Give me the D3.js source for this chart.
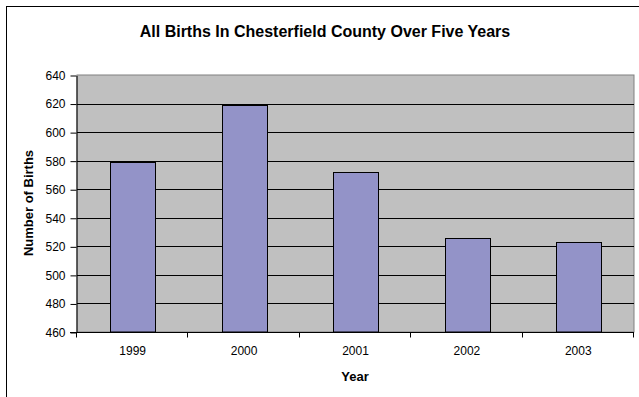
<!DOCTYPE html>
<html>
<head>
<meta charset="utf-8">
<script src="https://cdn.jsdelivr.net/npm/d3@7"></script>
<style>
  body { margin: 0; background: #fff; }
  svg { display: block; font-family: "Liberation Sans", Arial, sans-serif; }
</style>
</head>
<body>
<svg id="chart"></svg>
<script>
var years = ['1999', '2000', '2001', '2002', '2003'];
var births = [579, 619, 572, 526, 523];
var yTicks = [460, 480, 500, 520, 540, 560, 580, 600, 620, 640];

var width = 639;
var height = 397;

var svg = d3.select('#chart')
  .attr('width', width)
  .attr('height', height);

// outer chart frame (runs off the right and bottom edges)
svg.append('rect')
  .attr('x', 6.5)
  .attr('y', 6.5)
  .attr('width', width + 10)
  .attr('height', height + 10)
  .attr('fill', '#fff')
  .attr('stroke', '#000')
  .attr('stroke-width', 1);

var plot = { left: 77, top: 75, right: 634, bottom: 332 };

// x scale, excel style gap width 150%
var xScale = d3.scaleBand()
  .domain(years)
  .range([plot.left, plot.right]);

var yScale = d3.scaleLinear()
  .domain([460, 640])
  .range([plot.bottom, plot.top]);

// plot area
svg.append('rect')
  .attr('x', plot.left)
  .attr('y', plot.top)
  .attr('width', plot.right - plot.left)
  .attr('height', plot.bottom - plot.top)
  .attr('fill', '#c0c0c0')
  .attr('stroke', '#808080')
  .attr('stroke-width', 1);

// grid lines
svg.append('g')
  .selectAll('line')
  .data(yTicks.slice(1, -1))
  .enter().append('line')
    .attr('x1', plot.left)
    .attr('x2', plot.right)
    .attr('y1', function(d) { return Math.round(yScale(d)) + 0.5; })
    .attr('y2', function(d) { return Math.round(yScale(d)) + 0.5; })
    .attr('stroke', '#000')
    .attr('stroke-width', 1);

// bars
var barWidth = xScale.bandwidth() / 2.5;
svg.append('g')
  .selectAll('rect')
  .data(births)
  .enter().append('rect')
    .attr('x', function(d, i) {
      return Math.round(xScale(years[i]) + (xScale.bandwidth() - barWidth) / 2) + 0.5;
    })
    .attr('y', function(d) { return Math.round(yScale(d)) + 0.5; })
    .attr('width', Math.round(barWidth))
    .attr('height', function(d) { return plot.bottom - Math.round(yScale(d)) - 0.5; })
    .attr('fill', '#9393c8')
    .attr('stroke', '#000')
    .attr('stroke-width', 1);

// y axis
var yAxis = d3.axisLeft(yScale)
  .tickValues(yTicks)
  .tickSize(6)
  .tickPadding(5)
  .tickSizeOuter(0);

var yG = svg.append('g')
  .attr('transform', 'translate(' + (plot.left - 0.5) + ',0.5)')
  .call(yAxis);
yG.select('.domain').attr('stroke', '#000');
yG.selectAll('.tick line').attr('stroke', '#000');
yG.selectAll('.tick text')
  .attr('fill', '#000')
  .style('font-size', '12px')
  .style('font-family', '"Liberation Sans", Arial, sans-serif');

// x axis, ticks on category boundaries
var xG = svg.append('g')
  .attr('transform', 'translate(0,' + (plot.bottom + 0.5) + ')');
xG.append('line')
  .attr('x1', plot.left - 7)
  .attr('x2', plot.right)
  .attr('stroke', '#000');
xG.selectAll('.xtick')
  .data(years.concat(['end']))
  .enter().append('line')
    .attr('class', 'xtick')
    .attr('x1', function(d, i) { return Math.round(plot.left + i * xScale.step()) - 0.5; })
    .attr('x2', function(d, i) { return Math.round(plot.left + i * xScale.step()) - 0.5; })
    .attr('y1', 0)
    .attr('y2', 5)
    .attr('stroke', '#000');
xG.selectAll('text')
  .data(years)
  .enter().append('text')
    .attr('x', function(d) { return xScale(d) + xScale.bandwidth() / 2; })
    .attr('y', 22)
    .attr('text-anchor', 'middle')
    .style('font-size', '12px')
    .text(function(d) { return d; });

// title and axis titles
svg.append('text')
  .attr('x', 325)
  .attr('y', 37)
  .attr('text-anchor', 'middle')
  .style('font-size', '16px')
  .style('font-weight', 'bold')
  .text('All Births In Chesterfield County Over Five Years');

svg.append('text')
  .attr('x', 355)
  .attr('y', 381)
  .attr('text-anchor', 'middle')
  .style('font-size', '13px')
  .style('font-weight', 'bold')
  .text('Year');

svg.append('text')
  .attr('transform', 'translate(33,203) rotate(-90)')
  .attr('text-anchor', 'middle')
  .style('font-size', '13px')
  .style('font-weight', 'bold')
  .text('Number of Births');
</script>
</body>
</html>
